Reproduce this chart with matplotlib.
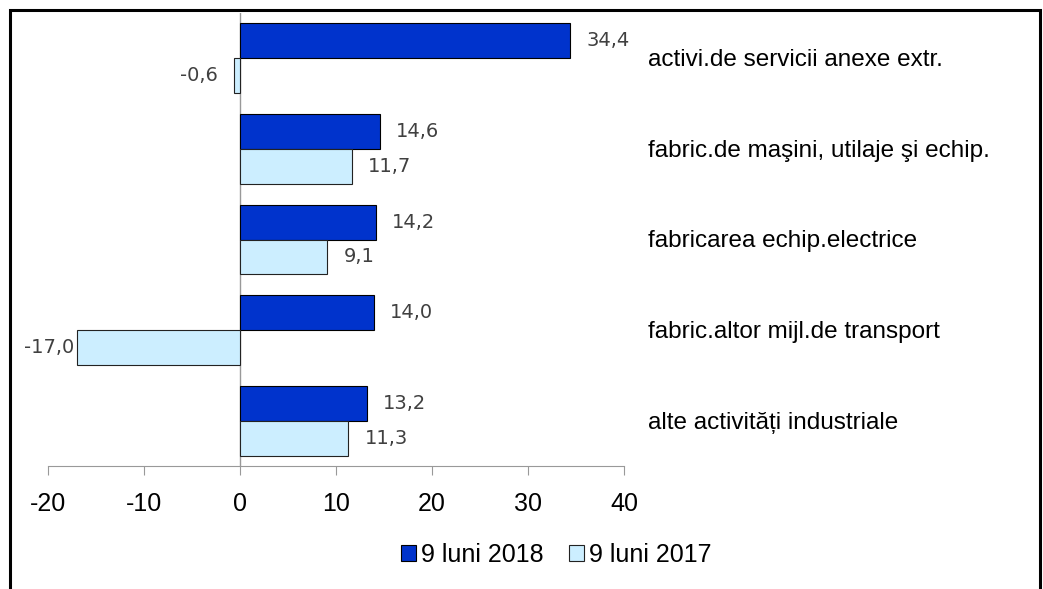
import matplotlib

matplotlib.use("Agg")
import matplotlib.pyplot as plt
import numpy as np
from matplotlib.patches import Rectangle

categories = [
    "activi.de servicii anexe extr.",
    "fabric.de maşini, utilaje şi echip.",
    "fabricarea echip.electrice",
    "fabric.altor mijl.de transport",
    "alte activități industriale",
]
series_names = ["9 luni 2018", "9 luni 2017"]
values_2018 = [34.4, 14.6, 14.2, 14.0, 13.2]
values_2017 = [-0.6, 11.7, 9.1, -17.0, 11.3]
x_ticks = [-20, -10, 0, 10, 20, 30, 40]

DARK = "#0033cc"
LIGHT = "#cceeff"
W, H = 1043, 589

fig = plt.figure(figsize=(W / 100, H / 100), dpi=100)
ax = fig.add_axes([48 / W, (H - 466) / H, (624 - 48) / W, (466 - 13) / H])

y = np.arange(len(categories))
bar_h = 0.385
ax.barh(y - bar_h / 2, values_2018, height=bar_h, color=DARK,
        edgecolor="black", linewidth=0.8, label=series_names[0], zorder=3)
ax.barh(y + bar_h / 2, values_2017, height=bar_h, color=LIGHT,
        edgecolor="#222222", linewidth=0.8, label=series_names[1], zorder=3)

ax.set_xlim(-20, 40)
ax.set_ylim(len(categories) - 0.5, -0.5)
ax.axvline(0, color="#999999", lw=1.0, zorder=2)

# value labels, decimal comma; the -17,0 one is pushed against its bar (no room)
for vals, offs in ((values_2018, -bar_h / 2), (values_2017, bar_h / 2)):
    for i, v in enumerate(vals):
        txt = f"{v:.1f}".replace(".", ",")
        if v >= 0:
            dx = 11.5
        elif v > -10:
            dx = -11.5
        else:
            dx = -1.5
        ax.annotate(txt, (v, i + offs), xytext=(dx, 0), textcoords="offset points",
                    ha="left" if v >= 0 else "right", va="center",
                    fontsize=14, color="#404040", family="DejaVu Sans")

# category names on the right
for i, name in enumerate(categories):
    ax.annotate(name, (1, i), xycoords=("axes fraction", "data"),
                xytext=(648 - 624, -2), textcoords="offset pixels",
                ha="left", va="center", fontsize=17.5, family="Liberation Sans",
                annotation_clip=False)

ax.set_xticks(x_ticks)
ax.set_xticklabels([str(t) for t in x_ticks], fontsize=18, family="Liberation Sans")
ax.set_yticks([])
for side in ("top", "right", "left"):
    ax.spines[side].set_visible(False)
ax.spines["bottom"].set_color("#999999")
ax.tick_params(axis="x", direction="out", length=6.5, color="#999999", pad=12)

fig.legend(loc="center", bbox_to_anchor=(556 / W, 1 - 555 / H), ncol=2,
           frameon=False, handlelength=0.6, handleheight=0.6, handletextpad=0.2,
           columnspacing=1.0, prop={"family": "Liberation Sans", "size": 18})

# outer frame
fig.patches.append(Rectangle((10 / W, -0.02), (1040 - 10) / W, (H - 10) / H + 0.02,
                             transform=fig.transFigure, fill=False,
                             edgecolor="black", linewidth=2.2))

fig.savefig("out.png", dpi=100)
